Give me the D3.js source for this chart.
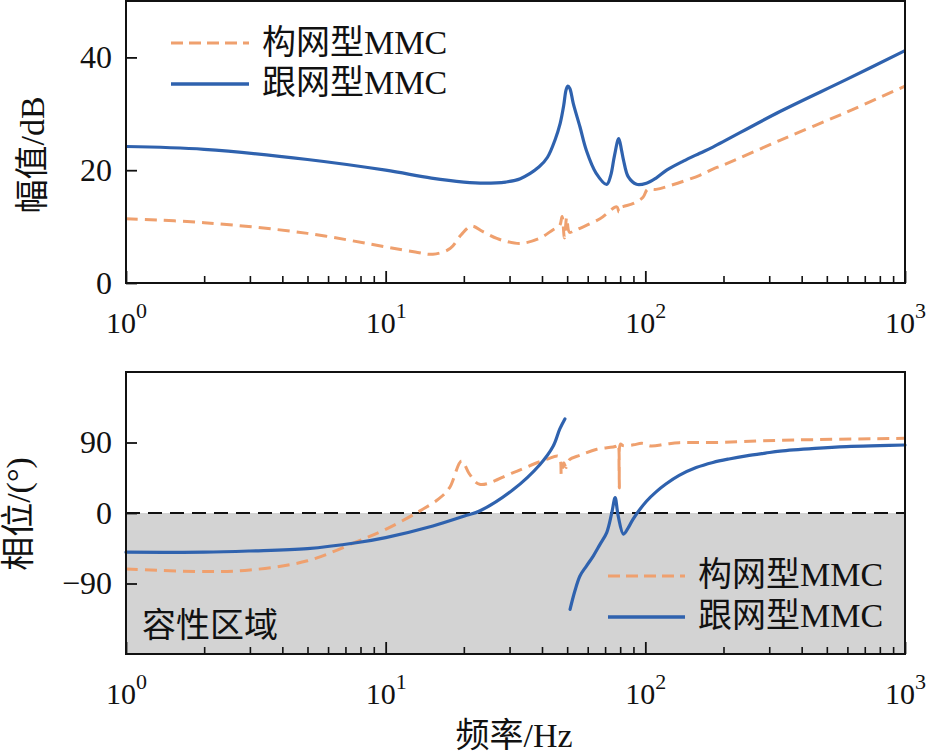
<!DOCTYPE html>
<html>
<head>
<meta charset="utf-8">
<script src="https://cdn.jsdelivr.net/npm/d3@7"></script>
<style>
  html, body { margin: 0; padding: 0; background: #fff; }
  svg { display: block; }
  text { font-family: "Liberation Serif", "Noto Sans CJK SC", serif; fill: #111; }
</style>
</head>
<body>
<svg id="chart" width="927" height="755"></svg>
<script>
// ---------- data ----------
const seriesNames = ["构网型MMC", "跟网型MMC"];

// magnitude (dB), grid-forming MMC (orange dashed)
const magGfmFreq = [1, 2, 5, 10, 13, 15.2, 17.7, 19.5, 21.4, 23.7, 26.8, 29, 33, 39, 44, 46.8, 47.8, 48.8, 49.8, 51, 53, 56, 66.9, 77.6, 79.2, 80.5, 82.5, 90, 98, 102, 110, 125, 162, 182, 199, 330, 596, 1000];
const magGfm     = [11.4, 10.7, 8.8, 6.4, 5.5, 5.1, 6.1, 8.5, 10.1, 9.1, 7.9, 7.4, 7.0, 7.9, 9.4, 10.2, 11.8, 8.0, 11.6, 9.0, 9.2, 9.7, 11.4, 13.5, 12.6, 13.4, 13.6, 14.1, 15.2, 16.6, 16.6, 17.3, 19.1, 20.2, 20.9, 25.3, 30.3, 34.9];

// magnitude (dB), grid-following MMC (blue solid)
const magGflFreq = [1, 2, 5, 10, 15, 20, 24, 29, 33, 39, 42, 45, 47, 48.5, 49.5, 50.3, 51.2, 52.8, 56, 59.3, 64.6, 71, 73.5, 76, 79, 81, 82.4, 86, 92.5, 101, 110, 120.8, 140, 162, 182, 330, 596, 1000];
const magGfl     = [24.2, 23.7, 21.9, 20.0, 18.6, 17.9, 17.7, 17.9, 18.5, 20.6, 22.3, 25.5, 28.3, 31.5, 34.2, 34.9, 34.5, 31.8, 27.7, 23.5, 19.5, 17.5, 19.0, 22.5, 25.6, 23.5, 21.8, 18.8, 17.5, 17.7, 18.6, 20.0, 21.6, 23.0, 24.1, 30.4, 36.1, 41.2];

// phase (deg), grid-forming MMC
const phGfmFreq = [1, 2, 3, 5, 7.7, 10, 13.2, 16, 17.6, 19.6, 21, 23, 31, 41.6, 46.5, 47.5, 48.5, 49.5, 51, 56, 65, 77.6, 78.6, 79.4, 80.2, 82, 90, 97, 105, 120, 135, 182, 330, 1000];
const phGfm     = [-71.5, -74.8, -72.8, -61, -37, -20.8, 0.5, 18, 32, 66.4, 50, 36.6, 51.6, 68.5, 72, 49, 64, 58, 68, 73.7, 81.3, 85.5, 88, 32, 88, 86, 87, 89, 85.5, 88, 89.8, 90, 92.8, 95.4];

// phase (deg), grid-following MMC (null = discontinuity)
const phGflFreq = [1, 2, 3, 5, 7.7, 10, 15.2, 20.5, 23, 31, 39.3, 44.2, 46.8, 49, 50, 51.3, 53.5, 56, 59.3, 63, 66.9, 71, 74.3, 76.5, 78.6, 82.4, 86, 89.6, 101, 110, 120, 135, 157, 182, 210, 245, 290, 330, 450, 596, 800, 1000];
const phGfl     = [-50, -50, -48.5, -45.5, -38, -31.4, -16.6, -3, 2.6, 30, 62, 85.5, 107, 120, null, -123, -100, -80.4, -67.7, -55, -40, -25, 0.5, 19.6, -3.8, -27, -18.7, -8, 15, 27, 37, 48, 58, 64.5, 69, 73, 76.5, 79, 82.5, 84.8, 86, 86.8];

const xMajorTicks = [1, 10, 100, 1000];
const xMajorExp = ["0", "1", "2", "3"];
const magTicks = [0, 20, 40];
const phTicks = [-90, 0, 90];

const magTitle = "幅值/dB";
const phTitle = "相位/(°)";
const xTitle = "频率/Hz";
const capRegionLabel = "容性区域";

// ---------- styles ----------
const ORANGE = "#EFA06E";
const BLUE = "#2F62AE";
const GRAY = "#D3D3D3";
const SERIF = '"Liberation Serif", "Noto Sans CJK SC", serif';

const svg = d3.select("#chart");
const L = 126, R = 905;
const top1 = 1, bot1 = 283;
const top2 = 372, bot2 = 654;

const x = d3.scaleLog().domain([1, 1000]).range([L, R]);
const yMag = d3.scaleLinear().domain([0, 50]).range([bot1, top1]);
const yPh = d3.scaleLinear().domain([-180, 180]).range([bot2, top2]);

const minorTicks = [];
for (let d = 1; d < 1000; d *= 10) for (let k = 2; k <= 9; k++) minorTicks.push(d * k);

function zip(fs, vs) { return fs.map((f, i) => ({f, v: vs[i]})); }

function drawPanel(y, yTop, yBot, yTicks) {
  const g = svg.append("g");
  g.append("g").attr("transform", `translate(0,${yBot})`)
    .call(d3.axisBottom(x).tickValues(minorTicks).tickSizeInner(-7).tickSizeOuter(0).tickFormat(""))
    .call(s => s.select(".domain").remove())
    .call(s => s.selectAll("line").attr("stroke", "#111").attr("stroke-width", 1.6));
  const gx = g.append("g").attr("transform", `translate(0,${yBot})`)
    .call(d3.axisBottom(x).tickValues(xMajorTicks).tickSizeInner(-12).tickSizeOuter(0).tickFormat(""))
    .call(s => s.select(".domain").remove())
    .call(s => s.selectAll("line").attr("stroke", "#111").attr("stroke-width", 1.8));
  gx.selectAll(".tick text").remove();
  gx.selectAll(".tick").each(function(d, i) {
    const t = d3.select(this).append("text")
      .attr("y", 50).attr("text-anchor", "middle")
      .style("fill", "#111").style("font-family", SERIF).style("font-size", "30px");
    t.append("tspan").text("10");
    t.append("tspan").attr("dy", -15).style("font-size", "22px").text(xMajorExp[i]);
  });
  g.append("g").attr("transform", `translate(${L},0)`)
    .call(d3.axisLeft(y).tickValues(yTicks).tickSizeInner(-11).tickSizeOuter(0).tickPadding(14))
    .call(s => s.select(".domain").remove())
    .call(s => s.selectAll("line").attr("stroke", "#111").attr("stroke-width", 1.8))
    .call(s => s.selectAll("text").style("fill", "#111").style("font-size", "32px")
      .style("font-family", SERIF));
  return g;
}

// ---------- bottom panel background ----------
svg.append("rect").attr("x", L).attr("y", yPh(0)).attr("width", R - L).attr("height", yPh(-180) - yPh(0))
  .attr("fill", GRAY);
svg.append("line").attr("x1", L).attr("x2", R).attr("y1", yPh(0)).attr("y2", yPh(0))
  .attr("stroke", "#111").attr("stroke-width", 1.8).attr("stroke-dasharray", "14,8");

drawPanel(yMag, top1, bot1, magTicks);
drawPanel(yPh, top2, bot2, phTicks);

// ---------- lines ----------
const curve = d3.curveCatmullRom.alpha(0.5);
const lineMag = d3.line().x(d => x(d.f)).y(d => yMag(d.v)).curve(curve);
const linePh = d3.line().defined(d => d.v !== null).x(d => x(d.f)).y(d => yPh(d.v)).curve(curve);

svg.append("path").datum(zip(magGfmFreq, magGfm)).attr("d", lineMag)
  .attr("fill", "none").attr("stroke", ORANGE).attr("stroke-width", 3).attr("stroke-dasharray", "12,7");
svg.append("path").datum(zip(magGflFreq, magGfl)).attr("d", lineMag)
  .attr("fill", "none").attr("stroke", BLUE).attr("stroke-width", 3.2).attr("stroke-linejoin", "round");
svg.append("path").datum(zip(phGfmFreq, phGfm)).attr("d", linePh)
  .attr("fill", "none").attr("stroke", ORANGE).attr("stroke-width", 3).attr("stroke-dasharray", "12,7");
svg.append("path").datum(zip(phGflFreq, phGfl)).attr("d", linePh)
  .attr("fill", "none").attr("stroke", BLUE).attr("stroke-width", 3.2).attr("stroke-linecap", "round")
  .attr("stroke-linejoin", "round");

// ---------- frames ----------
[[top1, bot1], [top2, bot2]].forEach(([t, b]) => {
  svg.append("rect").attr("x", L).attr("y", t).attr("width", R - L).attr("height", b - t)
    .attr("fill", "none").attr("stroke", "#111").attr("stroke-width", 2);
});

// ---------- legends ----------
function legend(x0, x1, tx, ys, baselines) {
  const styles = [{c: ORANGE, dash: "12,6", w: 3.2}, {c: BLUE, dash: null, w: 3.5}];
  seriesNames.forEach((name, i) => {
    svg.append("line").attr("x1", x0).attr("x2", x1).attr("y1", ys[i]).attr("y2", ys[i])
      .attr("stroke", styles[i].c).attr("stroke-width", styles[i].w)
      .attr("stroke-dasharray", styles[i].dash);
    svg.append("text").attr("x", tx).attr("y", baselines[i]).style("font-size", "34px").text(name);
  });
}
legend(171, 249, 262, [43, 84], [54, 94]);
legend(608, 685, 698, [576, 617], [586, 627]);

// ---------- labels ----------
svg.append("text").attr("x", 142).attr("y", 637).style("font-size", "34px").text(capRegionLabel);
svg.append("text").attr("x", 514).attr("y", 747).attr("text-anchor", "middle").style("font-size", "34px").text(xTitle);
svg.append("text").attr("transform", "translate(44,155) rotate(-90)").attr("text-anchor", "middle")
  .style("font-size", "34px").text(magTitle);
svg.append("text").attr("transform", "translate(30,514) rotate(-90)").attr("text-anchor", "middle")
  .style("font-size", "34px").text(phTitle);
</script>
</body>
</html>
